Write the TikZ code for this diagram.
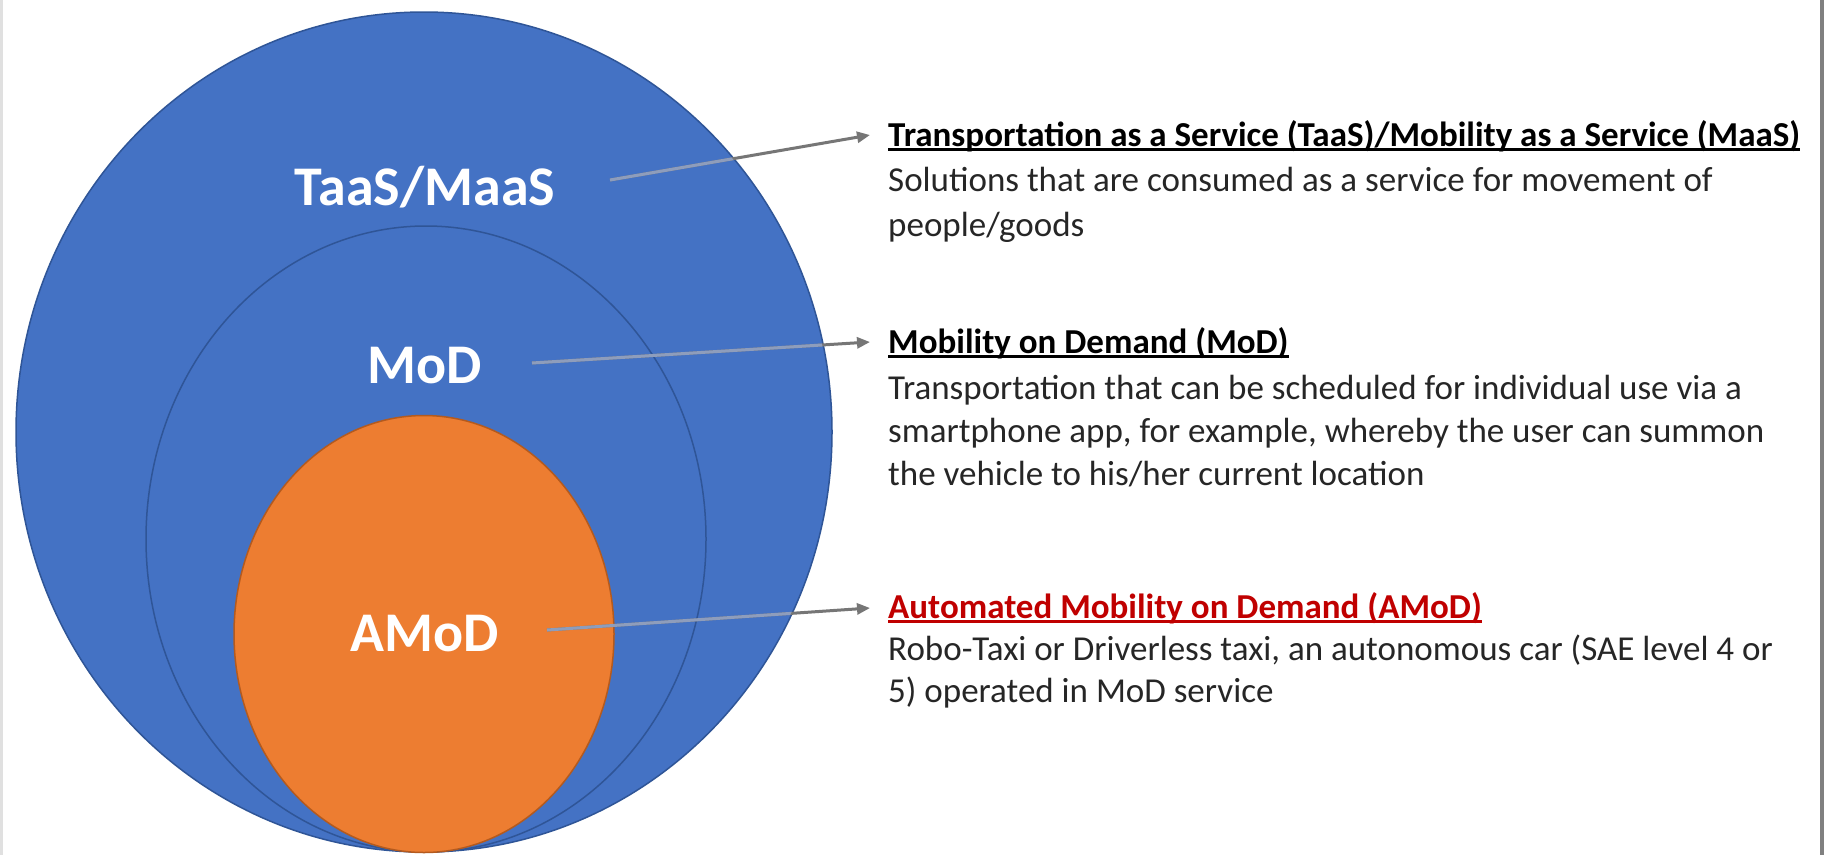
\documentclass[tikz,border=0pt]{standalone}
\usepackage{fontspec}
\setmainfont{Carlito}
\usetikzlibrary{shapes.geometric,arrows.meta}
\definecolor{cblue}{HTML}{4472C4}
\definecolor{cblueline}{HTML}{2F5597}
\definecolor{corange}{HTML}{ED7D31}
\definecolor{corangeline}{HTML}{B45A1E}
\definecolor{carrow}{HTML}{767676}
\definecolor{carrowin}{HTML}{8E9DBC}
\definecolor{ctext}{HTML}{262626}
\definecolor{cred}{HTML}{C00000}
\newcommand{\myul}[1]{\setbox0\hbox{#1}\rlap{\rule[-0.13em]{\wd0}{0.07em}}\box0}
\begin{document}
\begin{tikzpicture}[x=1pt,y=-1pt,
  blob/.style={ellipse, inner sep=0pt, outer sep=0pt},
  circlabel/.style={anchor=base, text=white, font=\fontsize{56}{60}\selectfont\bfseries, inner sep=0pt},
  titletext/.style={anchor=base west, inner sep=0pt, font=\fontsize{35}{42}\selectfont\bfseries, text=black},
  bodytext/.style={anchor=base west, inner sep=0pt, font=\fontsize{35}{42}\selectfont, text=ctext},
  conn/.style={draw=carrow, line width=3pt, -{Triangle[length=13pt,width=11pt]}},
  conninner/.style={draw=carrowin, line width=3pt},
]
\useasboundingbox (0,0) rectangle (1827,855);
\fill[white] (0,0) rectangle (1827,855);
\draw[line width=3pt, color=black!12] (1.5,0) -- (1.5,855);
\draw[line width=4pt, color=black!50] (1822,0) -- (1822,855);

% circles
\node[blob, fill=cblue, draw=cblueline, line width=1.5pt, minimum width=816pt, minimum height=840pt] (outer) at (424,432) {};
\node[blob, draw=cblueline, line width=1.5pt, minimum width=560pt, minimum height=626pt] (middle) at (426,539) {};
\node[blob, fill=corange, draw=corangeline, line width=1.5pt, minimum width=380pt, minimum height=437pt] (inner) at (424,634) {};

% labels
\node[circlabel] (taas) at (425,205) {TaaS/MaaS};
\node[circlabel] (mod) at (425,383) {MoD};
\node[circlabel] (amod) at (425,651) {AMoD};

% connector end points
\coordinate (s1) at (610,180);
\coordinate (e1) at (870,135);
\coordinate (s2) at (532,363);
\coordinate (e2) at (870,342);
\coordinate (s3) at (547,630);
\coordinate (e3) at (870,608);

\draw[conn] (s1) -- (e1);
\draw[conn] (s2) -- (e2);
\draw[conn] (s3) -- (e3);
\begin{scope}
  \clip (424,432) ellipse [x radius=407pt, y radius=419pt];
  \draw[conninner] (s1) -- (e1);
  \draw[conninner] (s2) -- (e2);
  \draw[conninner] (s3) -- (e3);
\end{scope}

% right texts
\node[titletext] (t1) at (888,146) {\myul{Transportation as a Service (TaaS)/Mobility as a Service (MaaS)}};
\node[bodytext] (b1a) at (888,191) {Solutions that are consumed as a service for movement of};
\node[bodytext] (b1b) at (888,236) {people/goods};

\node[titletext] (t2) at (888,353) {\myul{Mobility on Demand (MoD)}};
\node[bodytext] (b2a) at (888,399) {Transportation that can be scheduled for individual use via a};
\node[bodytext] (b2b) at (888,442) {smartphone app, for example, whereby the user can summon};
\node[bodytext] (b2c) at (888,485) {the vehicle to his/her current location};

\node[titletext, text=cred] (t3) at (888,618) {\myul{Automated Mobility on Demand (AMoD)}};
\node[bodytext] (b3a) at (888,660) {Robo-Taxi or Driverless taxi, an autonomous car (SAE level 4 or};
\node[bodytext] (b3b) at (888,702) {5) operated in MoD service};
\end{tikzpicture}
\end{document}
